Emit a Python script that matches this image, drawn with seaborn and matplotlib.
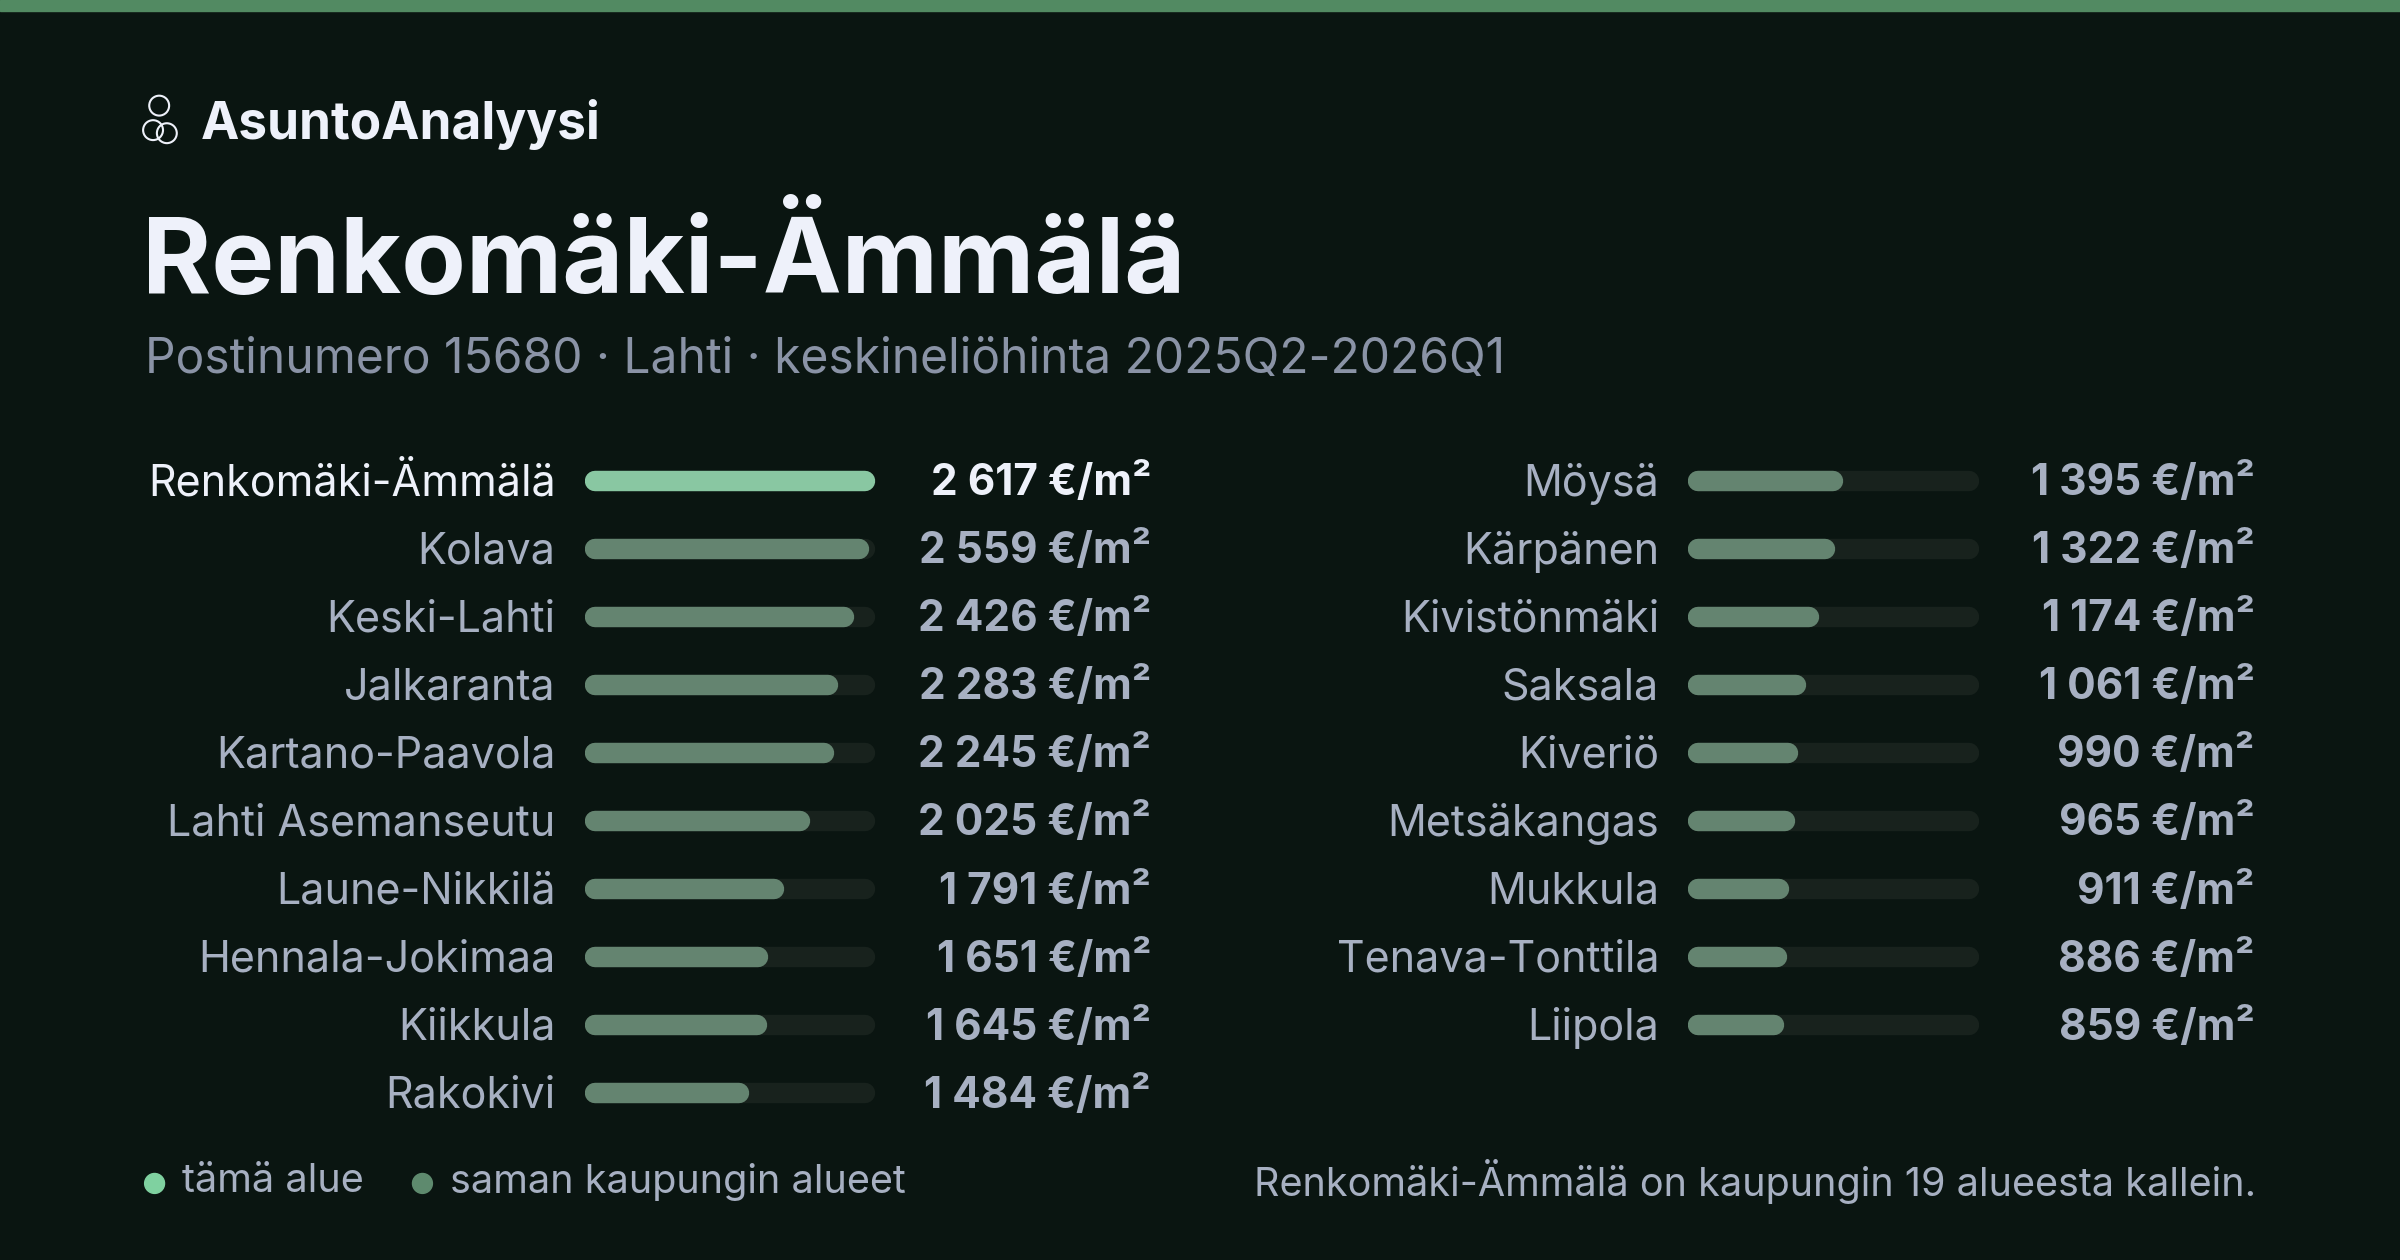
import matplotlib
matplotlib.use("Agg")
import matplotlib.pyplot as plt
import seaborn as sns
import pandas as pd
from matplotlib.patches import Circle

left_names = ["Renkomäki-Ämmälä", "Kolava", "Keski-Lahti", "Jalkaranta", "Kartano-Paavola",
              "Lahti Asemanseutu", "Laune-Nikkilä", "Hennala-Jokimaa", "Kiikkula", "Rakokivi"]
left_vals = [2617, 2559, 2426, 2283, 2245, 2025, 1791, 1651, 1645, 1484]
right_names = ["Möysä", "Kärpänen", "Kivistönmäki", "Saksala", "Kiveriö",
               "Metsäkangas", "Mukkula", "Tenava-Tonttila", "Liipola"]
right_vals = [1395, 1322, 1174, 1061, 990, 965, 911, 886, 859]
highlight = "Renkomäki-Ämmälä"

BG = "#0a1511"; STRIPE = "#528a62"; HI = "#7fd1a0"; OTHER = "#5e8a6e"; TRACK = "#16241d"
LABEL = "#a7b0c2"; WHITE = "#eef1fa"; SUB = "#8a93a6"

sns.set_theme(style="white")
plt.rcParams['font.family'] = ['Inter', 'DejaVu Sans']

W, H = 1568, 823
fig = plt.figure(figsize=(24, 12.6), dpi=100, facecolor=BG)
ov = fig.add_axes([0, 0, 1, 1]); ov.set_xlim(0, W); ov.set_ylim(H, 0); ov.axis("off")
ov.set_facecolor(BG)
ov.add_patch(plt.Rectangle((0, 0), W, 7, color=STRIPE))

# brand
for (cx, cy) in [(104, 69), (100, 85), (109, 87)]:
    ov.add_patch(Circle((cx, cy), 6.5, fill=False, ec=WHITE, lw=1.5))
ov.text(131, 81, "AsuntoAnalyysi", color=WHITE, fontsize=37, fontweight="bold", va="center")
ov.text(93, 172, "Renkomäki-Ämmälä", color=WHITE, fontsize=76, fontweight="bold", va="center")
ov.text(95, 235, "Postinumero 15680 · Lahti · keskineliöhinta 2025Q2-2026Q1", color=SUB, fontsize=34.5, va="center")

vmax = max(left_vals + right_vals)
row = 44.44
def panel(names, vals, x0, x1, xlab, xval):
    n = len(names)
    top = 314 - row / 2
    bot = top + n * row
    ax = fig.add_axes([x0 / W, 1 - bot / H, (x1 - x0) / W, (bot - top) / H])
    df = pd.DataFrame({"name": names, "val": vals, "track": [vmax] * n})
    sns.barplot(data=df, y="name", x="track", color=TRACK, width=0.3, ax=ax, orient="h")
    sns.barplot(data=df, y="name", x="val", hue="name", palette=[HI if nm == highlight else OTHER for nm in names],
                width=0.3, ax=ax, orient="h", legend=False)
    ax.set_xlim(0, vmax); ax.set_ylim(n - 0.5, -0.5)
    ax.axis("off"); ax.patch.set_alpha(0)
    fig.canvas.draw()
    for p in list(ax.patches):
        x, y, w, h = p.get_x(), p.get_y(), p.get_width(), p.get_height()
        disp = ax.transData.transform([[0, y], [0, y + h], [0, 0], [1, 0]])
        hpx = abs(disp[1][1] - disp[0][1])
        lw = hpx * 72 / fig.dpi
        r = (hpx / 2) / (disp[3][0] - disp[2][0])
        ax.plot([x + r, x + w - r], [y + h / 2] * 2, color=p.get_facecolor(), lw=lw,
                solid_capstyle="round", zorder=p.get_zorder())
        p.set_visible(False)
    for i, (nm, v) in enumerate(zip(names, vals)):
        yy = 316 + i * row
        hi = nm == highlight
        ov.text(xlab, yy, nm, ha="right", va="center", fontsize=31, color=WHITE if hi else LABEL)
        s = f"{v:,}".replace(",", " ") + " €/m²"
        ov.text(xval, yy, s, ha="right", va="center", fontsize=30.5, fontweight="bold", color=WHITE if hi else LABEL)

panel(left_names, left_vals, 382, 572, 363, 752)
panel(right_names, right_vals, 1103, 1293, 1084, 1473)

ov.add_patch(Circle((101, 773), 6.5, color=HI))
ov.text(119, 772, "tämä alue", color=LABEL, fontsize=28.5, va="center")
ov.add_patch(Circle((276, 773), 6.5, color=OTHER))
ov.text(294, 772, "saman kaupungin alueet", color=LABEL, fontsize=28.5, va="center")
ov.text(1474, 772, "Renkomäki-Ämmälä on kaupungin 19 alueesta kallein.", color=LABEL, fontsize=28.5,
        va="center", ha="right")

fig.savefig("out.png", dpi=100, facecolor=BG)
